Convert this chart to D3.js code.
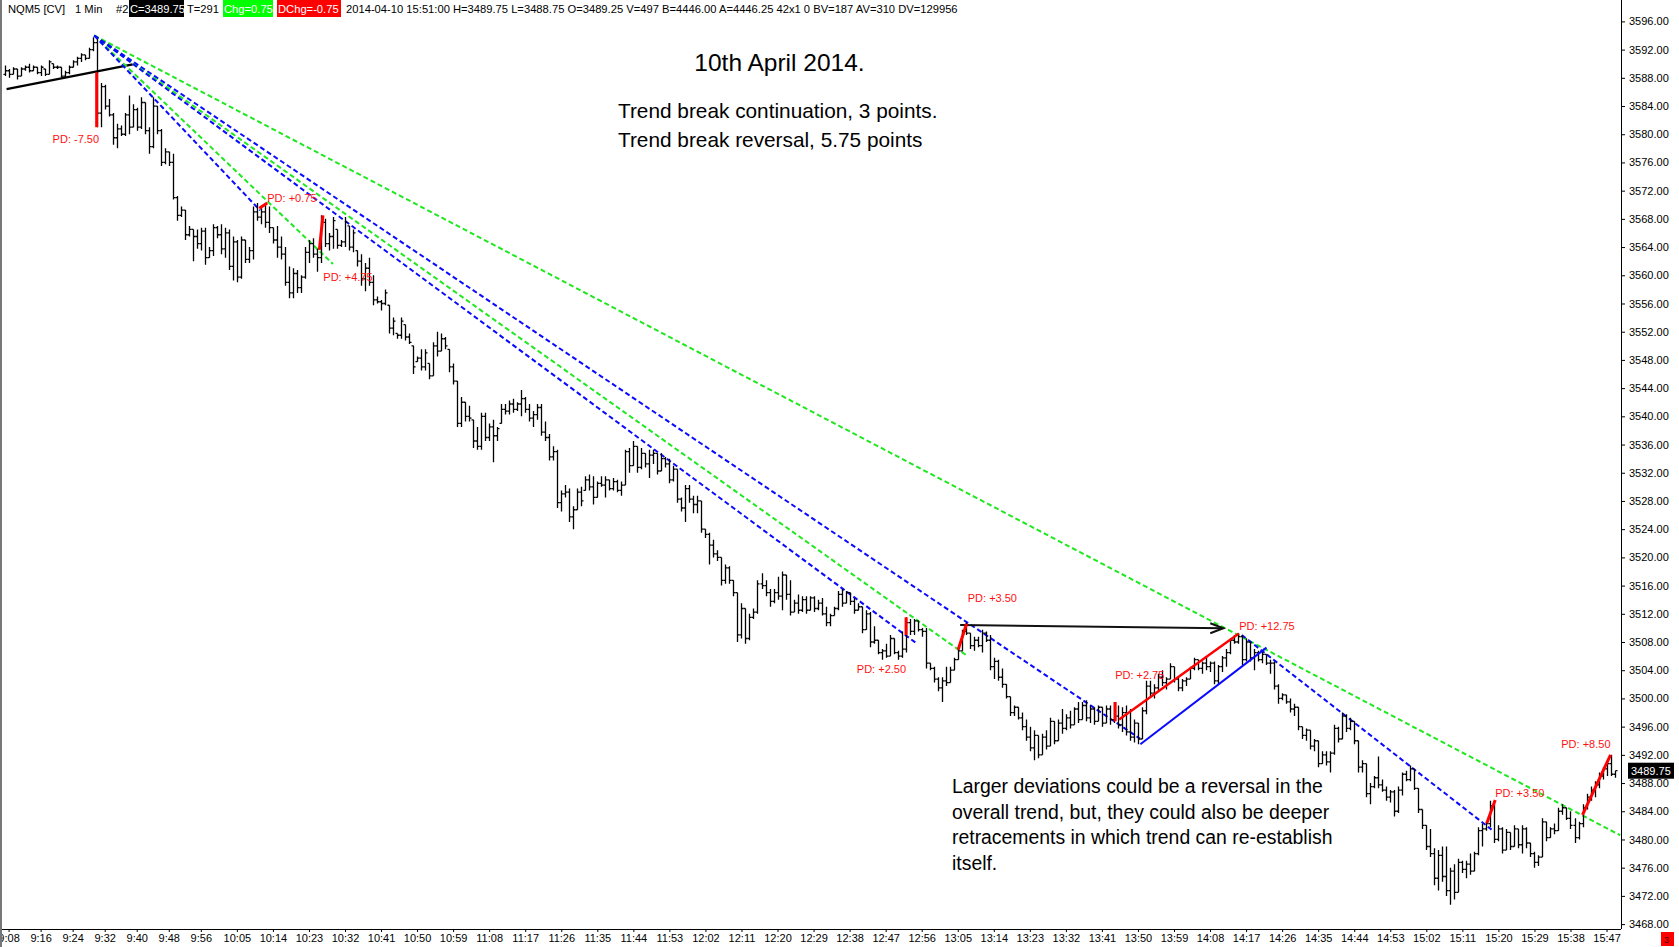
<!DOCTYPE html>
<html>
<head>
<meta charset="utf-8">
<script src="https://cdn.jsdelivr.net/npm/d3@7/dist/d3.min.js"></script>
<style>
  body { margin: 0; background: #fff; }
  svg { display: block; }
  text { font-family: "Liberation Sans", Arial, sans-serif; }
</style>
</head>
<body>
<div id="chart"></div>
<script>
// NQM5 1 min bars, 10 April 2014, first bar 9:07 (minute of day 547)
var firstMinute = 547;

var opens = [
3588.5,3589.0,3588.5,3589.25,3588.25,3589.25,3589.5,3589.0,3589.5,3588.75,
3589.25,3588.5,3590.0,3589.5,3589.5,3588.25,3588.75,3589.5,3590.25,3590.75,
3591.25,3590.75,3592.0,3593.0,3583.0,3586.75,3584.0,3582.75,3579.5,3580.75,
3580.0,3582.75,3581.0,3583.5,3581.0,3584.5,3580.5,3578.25,3584.0,3580.5,
3576.0,3577.5,3576.0,3571.0,3568.5,3569.25,3565.75,3566.5,3565.5,3564.5,
3566.25,3562.5,3563.5,3566.75,3565.75,3563.75,3566.0,3561.25,3564.75,3559.75,
3565.0,3562.25,3563.5,3569.0,3568.25,3569.0,3567.5,3566.75,3565.0,3564.0,
3563.0,3559.0,3557.5,3560.25,3558.25,3559.75,3563.25,3564.5,3563.0,3562.5,
3567.5,3564.5,3565.5,3566.5,3564.25,3564.75,3567.0,3564.0,3563.5,3562.0,
3559.5,3561.0,3559.0,3556.5,3556.25,3556.0,3555.75,3552.5,3551.75,3551.5,
3553.0,3551.25,3550.0,3547.75,3548.25,3547.0,3547.5,3545.75,3550.0,3549.25,
3551.0,3549.5,3547.0,3545.0,3539.0,3542.0,3540.0,3539.5,3536.5,3535.75,
3540.0,3537.0,3538.5,3537.25,3539.0,3541.0,3540.75,3541.75,3541.0,3541.75,
3542.5,3541.0,3539.75,3540.25,3541.25,3537.75,3537.0,3534.25,3535.0,3527.75,
3529.0,3529.25,3525.75,3526.75,3529.25,3529.5,3531.0,3530.0,3528.5,3530.5,
3530.25,3531.0,3529.75,3530.75,3529.5,3530.25,3535.0,3533.0,3535.75,3532.75,
3534.75,3533.25,3534.5,3534.75,3532.25,3534.0,3533.25,3531.0,3532.5,3528.25,
3527.0,3529.75,3528.25,3527.5,3528.0,3524.0,3523.25,3521.75,3520.5,3520.0,
3516.75,3518.5,3516.75,3515.0,3509.0,3512.75,3508.5,3511.5,3512.25,3516.25,
3516.0,3515.0,3513.75,3515.0,3514.5,3517.5,3514.75,3512.25,3513.5,3512.5,
3514.0,3512.5,3514.25,3512.75,3513.5,3512.0,3510.75,3511.75,3512.75,3514.75,
3513.5,3515.0,3513.75,3512.5,3513.0,3509.75,3512.0,3508.0,3508.25,3506.5,
3506.75,3506.0,3508.5,3506.5,3506.0,3507.0,3510.75,3509.5,3511.0,3509.75,
3509.5,3505.0,3504.25,3502.75,3501.5,3502.5,3502.25,3504.0,3505.5,3506.75,
3509.5,3509.25,3507.5,3508.25,3507.5,3509.25,3508.25,3504.5,3505.25,3503.0,
3502.0,3500.25,3498.0,3498.75,3497.25,3496.0,3494.5,3493.0,3494.75,3492.0,
3494.5,3493.25,3496.75,3494.0,3496.5,3495.75,3497.25,3496.25,3498.5,3497.0,
3499.0,3497.25,3498.5,3496.75,3498.75,3496.5,3498.5,3497.0,3497.5,3496.25,
3498.0,3495.25,3494.5,3496.5,3494.25,3498.25,3501.75,3500.75,3501.5,3503.0,
3502.25,3502.75,3504.5,3502.75,3501.5,3502.5,3502.75,3504.25,3505.5,3504.25,
3505.0,3504.5,3505.0,3502.5,3504.5,3505.75,3506.5,3508.25,3508.0,3508.75,
3505.5,3508.0,3505.75,3506.5,3505.5,3506.25,3505.0,3505.0,3501.75,3500.0,
3500.5,3499.5,3498.5,3498.75,3496.0,3494.75,3495.5,3493.25,3494.0,3490.75,
3492.0,3491.0,3492.25,3495.75,3494.25,3497.5,3495.75,3496.75,3494.0,3490.25,
3490.75,3486.5,3487.5,3488.75,3487.75,3487.0,3486.0,3486.75,3484.0,3487.0,
3489.25,3488.5,3490.0,3487.25,3484.25,3482.0,3479.0,3478.0,3474.5,3477.75,
3474.75,3472.75,3475.5,3472.5,3476.75,3475.75,3476.5,3475.5,3478.0,3481.25,
3481.5,3482.25,3484.75,3480.0,3481.5,3478.5,3481.0,3479.0,3481.5,3479.25,
3481.5,3479.5,3478.0,3476.75,3477.5,3482.5,3480.25,3481.5,3481.25,3484.0,
3484.5,3483.0,3482.0,3480.25,3482.25,3484.5,3486.0,3487.0,3487.75,3489.0,
3490.0,3490.75,3489.25
];

var highs = [
3589.75,3589.25,3589.5,3589.25,3589.5,3589.75,3590.0,3589.75,3589.5,3589.75,
3589.25,3590.5,3590.0,3589.75,3589.5,3589.0,3589.75,3590.5,3591.0,3591.5,
3591.25,3592.25,3593.75,3593.5,3587.25,3587.0,3585.0,3583.0,3581.5,3581.25,
3583.0,3585.5,3584.25,3583.75,3585.25,3584.5,3581.0,3585.25,3584.0,3580.75,
3578.0,3577.5,3577.25,3571.25,3569.75,3569.25,3567.0,3566.5,3566.5,3566.75,
3566.75,3564.0,3567.25,3567.0,3567.25,3566.75,3566.5,3565.5,3565.0,3565.5,
3565.0,3564.0,3569.75,3570.25,3569.5,3570.25,3569.75,3566.75,3567.0,3565.5,
3564.0,3561.25,3561.0,3560.75,3560.0,3564.0,3565.0,3565.25,3563.75,3568.5,
3568.0,3566.0,3568.25,3566.5,3565.0,3568.25,3567.0,3566.5,3563.5,3563.0,
3561.75,3562.5,3560.0,3557.0,3556.5,3558.0,3555.75,3554.0,3551.75,3554.0,
3553.0,3551.75,3550.0,3548.5,3549.5,3549.5,3547.5,3550.5,3552.0,3551.75,
3551.25,3549.5,3547.5,3545.0,3542.75,3542.0,3541.5,3539.5,3538.5,3540.5,
3540.5,3539.0,3539.5,3538.5,3541.75,3541.75,3542.25,3542.5,3542.0,3543.75,
3542.75,3541.75,3540.75,3541.75,3541.75,3539.25,3537.5,3535.75,3535.25,3529.5,
3530.25,3529.75,3527.25,3529.75,3530.0,3531.5,3531.75,3531.5,3530.75,3531.5,
3531.5,3531.0,3531.25,3531.0,3530.75,3535.25,3535.5,3536.5,3535.75,3535.5,
3534.75,3535.25,3535.25,3534.75,3534.75,3534.25,3534.0,3533.0,3532.5,3528.5,
3530.25,3530.25,3528.75,3528.75,3528.0,3524.0,3523.5,3522.5,3521.0,3520.0,
3519.0,3518.75,3516.75,3515.0,3513.5,3512.75,3512.0,3512.75,3516.75,3517.75,
3516.75,3515.5,3515.5,3517.25,3518.0,3517.5,3516.75,3514.0,3514.75,3514.5,
3514.5,3514.5,3514.5,3514.0,3514.25,3513.0,3512.0,3513.0,3515.25,3515.5,
3515.25,3515.0,3514.25,3513.5,3513.0,3512.5,3512.25,3510.25,3508.25,3507.0,
3507.75,3509.0,3508.5,3506.75,3509.5,3511.5,3511.25,3511.25,3511.0,3510.0,
3510.0,3505.0,3504.5,3503.0,3503.0,3504.5,3504.5,3505.75,3507.0,3509.75,
3510.75,3509.25,3508.75,3508.75,3509.75,3509.5,3509.0,3505.75,3505.5,3504.25,
3502.0,3500.25,3499.0,3498.75,3498.0,3497.0,3496.0,3495.5,3494.75,3495.0,
3495.5,3497.25,3496.75,3497.0,3498.5,3497.75,3498.25,3498.75,3499.5,3499.5,
3499.75,3499.0,3498.75,3499.0,3498.75,3499.0,3499.0,3499.5,3499.0,3498.75,
3499.0,3498.5,3497.0,3496.5,3498.75,3502.5,3502.5,3502.0,3503.5,3504.0,
3503.0,3505.0,3504.5,3503.0,3502.75,3503.0,3504.5,3505.75,3505.5,3505.25,
3506.0,3505.25,3505.25,3504.75,3506.0,3507.0,3508.5,3509.0,3509.25,3509.0,
3508.5,3508.0,3507.0,3506.75,3506.75,3506.25,3505.5,3505.25,3502.0,3500.75,
3500.5,3500.0,3499.25,3498.75,3496.0,3495.75,3495.5,3494.25,3494.0,3492.5,
3492.5,3492.5,3496.25,3496.0,3498.0,3497.75,3497.25,3496.75,3494.0,3491.25,
3490.75,3488.0,3489.0,3491.75,3488.5,3487.5,3487.0,3487.0,3487.5,3489.5,
3489.75,3490.5,3490.0,3487.25,3484.25,3482.0,3481.5,3478.75,3478.5,3479.0,
3479.0,3476.0,3476.5,3477.25,3477.0,3477.0,3478.0,3478.25,3481.75,3482.25,
3482.5,3485.5,3485.0,3482.0,3481.75,3481.5,3481.0,3482.0,3481.5,3482.0,
3481.75,3479.5,3478.25,3477.75,3483.0,3482.5,3481.75,3482.25,3484.5,3485.0,
3484.5,3484.0,3483.0,3482.5,3485.0,3486.5,3487.5,3488.25,3489.5,3490.25,
3491.0,3492.0,3489.75
];

var lows = [
3588.25,3588.0,3588.5,3587.75,3588.25,3589.0,3588.75,3589.0,3588.5,3588.25,
3588.25,3588.5,3589.25,3589.25,3588.0,3588.0,3588.5,3589.5,3589.75,3590.25,
3590.5,3590.75,3591.75,3581.0,3581.0,3583.5,3582.5,3578.5,3578.0,3579.75,
3579.75,3580.0,3581.0,3580.5,3580.75,3580.0,3577.25,3578.0,3580.0,3575.5,
3575.75,3575.5,3570.75,3567.75,3568.25,3565.0,3565.5,3562.0,3563.75,3563.5,
3561.5,3562.5,3562.75,3565.25,3563.0,3562.5,3560.75,3559.25,3559.0,3559.5,
3561.75,3561.75,3562.25,3567.75,3567.25,3566.75,3566.0,3564.5,3562.5,3562.25,
3558.5,3556.75,3556.75,3557.5,3557.5,3559.5,3561.75,3562.5,3560.5,3561.75,
3564.0,3563.5,3563.75,3563.75,3564.0,3564.0,3563.5,3563.25,3561.25,3558.5,
3557.75,3558.5,3555.75,3556.0,3555.0,3555.75,3551.75,3551.5,3551.0,3551.0,
3550.75,3550.25,3546.0,3547.75,3546.5,3546.5,3545.25,3545.75,3548.5,3549.25,
3549.5,3546.25,3544.5,3538.5,3538.5,3539.25,3539.25,3535.5,3535.25,3535.25,
3536.5,3536.5,3533.5,3536.5,3539.0,3540.25,3540.25,3540.5,3540.75,3540.0,
3540.5,3539.25,3538.5,3539.5,3537.25,3536.5,3533.75,3533.75,3527.0,3526.5,
3528.5,3525.0,3524.0,3526.75,3527.25,3529.5,3529.5,3527.5,3528.5,3530.0,
3528.5,3529.5,3529.5,3529.25,3528.75,3530.25,3532.0,3533.0,3532.0,3532.5,
3532.75,3531.25,3533.25,3531.75,3532.25,3532.75,3530.5,3530.75,3527.75,3526.5,
3525.0,3527.75,3526.25,3526.25,3523.5,3522.75,3519.0,3520.0,3519.5,3516.0,
3516.25,3516.25,3514.5,3508.0,3508.5,3507.75,3508.25,3511.25,3512.0,3515.5,
3514.5,3513.0,3513.5,3514.0,3512.5,3514.0,3511.75,3512.25,3512.0,3512.25,
3512.0,3512.5,3512.25,3512.5,3511.75,3510.25,3510.25,3511.75,3512.5,3513.0,
3513.5,3513.25,3512.0,3512.5,3509.25,3509.75,3507.25,3507.75,3506.25,3505.5,
3505.75,3506.0,3506.25,3505.5,3505.75,3506.5,3509.0,3509.0,3509.5,3508.75,
3504.25,3504.0,3502.25,3501.0,3499.5,3501.75,3502.25,3504.0,3505.5,3506.75,
3509.0,3507.0,3506.75,3507.25,3506.5,3508.0,3504.0,3502.75,3502.5,3501.5,
3500.0,3497.5,3497.5,3497.0,3495.5,3494.0,3492.5,3491.25,3491.5,3492.0,
3492.75,3493.25,3493.5,3494.0,3495.0,3495.5,3495.75,3496.25,3496.5,3497.0,
3496.75,3496.5,3496.25,3496.75,3496.0,3496.5,3496.25,3496.5,3495.75,3495.25,
3494.75,3494.0,3493.75,3493.5,3494.25,3497.75,3500.25,3500.0,3501.0,3501.75,
3501.25,3502.75,3502.25,3501.0,3501.0,3501.75,3502.75,3504.0,3504.0,3503.5,
3504.0,3503.75,3502.0,3502.0,3503.75,3504.5,3506.25,3507.75,3507.75,3504.75,
3505.25,3505.25,3504.0,3505.25,3505.0,3504.75,3503.5,3501.25,3499.25,3499.75,
3499.25,3498.0,3497.5,3495.5,3494.25,3494.0,3492.75,3492.5,3490.25,3490.75,
3490.5,3489.5,3492.0,3493.75,3494.25,3495.25,3495.5,3493.5,3489.5,3489.5,
3486.0,3485.0,3487.25,3487.25,3486.75,3485.5,3485.25,3483.25,3483.75,3486.25,
3488.25,3488.25,3487.0,3483.75,3481.5,3478.5,3477.5,3473.5,3472.75,3474.0,
3472.0,3470.75,3471.5,3472.5,3475.25,3474.5,3475.0,3475.5,3477.75,3479.0,
3481.25,3481.75,3479.5,3479.75,3478.0,3478.5,3478.5,3479.0,3478.75,3478.0,
3478.75,3477.5,3476.0,3476.25,3477.5,3479.75,3480.25,3480.75,3481.25,3483.5,
3482.75,3481.5,3479.5,3480.0,3481.75,3484.25,3485.5,3486.0,3487.25,3488.5,
3489.0,3489.0,3488.75
];

var closes = [
3589.0,3588.5,3589.25,3588.25,3589.25,3589.5,3589.0,3589.5,3588.75,3589.5,
3588.5,3590.25,3589.5,3589.5,3588.25,3588.75,3589.5,3590.25,3590.75,3591.25,
3590.75,3592.0,3593.0,3583.0,3586.75,3584.0,3582.75,3579.5,3580.75,3580.0,
3582.75,3581.0,3583.5,3581.0,3584.5,3580.5,3578.25,3584.0,3580.5,3576.0,
3577.5,3576.0,3571.0,3568.5,3569.25,3565.75,3566.5,3565.5,3564.5,3566.25,
3562.5,3563.5,3566.75,3565.75,3563.75,3566.0,3561.25,3564.75,3559.75,3565.0,
3562.25,3563.5,3569.0,3568.25,3569.0,3567.5,3566.75,3565.0,3564.0,3563.0,
3559.0,3557.5,3560.25,3558.25,3559.75,3563.25,3564.5,3563.0,3562.5,3567.5,
3564.5,3565.5,3567.75,3564.25,3564.75,3567.5,3564.0,3566.0,3562.0,3559.5,
3561.0,3559.0,3556.5,3556.25,3556.0,3557.5,3552.5,3553.5,3551.5,3553.5,
3551.25,3550.5,3547.0,3548.25,3547.0,3549.0,3545.75,3550.0,3549.25,3551.0,
3550.0,3547.0,3545.0,3539.0,3542.0,3540.0,3539.75,3536.5,3535.75,3540.0,
3537.0,3538.5,3537.25,3538.25,3541.0,3540.75,3541.75,3541.0,3541.75,3542.5,
3541.0,3539.75,3540.25,3541.25,3537.75,3537.0,3534.25,3535.0,3527.75,3529.0,
3529.25,3525.75,3526.75,3529.25,3528.0,3531.0,3530.0,3528.5,3530.5,3530.25,
3531.0,3529.75,3530.75,3529.5,3530.25,3535.0,3533.0,3535.75,3532.75,3534.75,
3533.25,3534.5,3534.75,3532.25,3534.0,3533.25,3531.0,3532.5,3528.25,3527.0,
3529.75,3528.25,3527.5,3528.0,3524.0,3523.25,3521.75,3520.5,3520.0,3516.75,
3518.5,3516.75,3515.0,3509.0,3512.75,3508.5,3511.5,3512.25,3516.25,3516.0,
3515.0,3513.75,3515.0,3514.5,3517.5,3514.75,3512.25,3513.5,3512.5,3514.0,
3512.5,3514.25,3512.75,3513.5,3512.0,3510.75,3511.75,3512.75,3514.75,3513.5,
3515.0,3513.75,3512.5,3513.0,3509.75,3512.0,3508.0,3508.25,3506.5,3506.75,
3506.0,3508.5,3506.5,3506.0,3507.0,3510.75,3509.5,3511.0,3509.75,3509.5,
3505.0,3504.25,3502.75,3501.5,3502.5,3502.25,3504.0,3505.5,3506.75,3509.5,
3509.25,3507.5,3508.25,3507.5,3509.25,3508.25,3504.5,3505.25,3503.0,3502.0,
3500.25,3498.0,3498.75,3497.25,3496.0,3494.5,3493.0,3494.75,3492.0,3494.5,
3493.25,3496.75,3494.0,3496.5,3495.75,3497.25,3496.25,3498.5,3497.0,3499.0,
3497.25,3498.5,3496.75,3498.75,3496.5,3498.5,3497.0,3497.5,3496.25,3498.0,
3495.25,3494.5,3496.5,3494.25,3498.25,3501.75,3500.75,3501.5,3503.0,3502.25,
3502.75,3504.5,3502.75,3501.5,3502.5,3502.75,3504.25,3505.5,3504.25,3505.0,
3504.5,3505.0,3502.5,3504.5,3505.75,3506.5,3508.25,3508.0,3508.75,3505.5,
3508.0,3505.75,3506.5,3505.5,3506.25,3505.0,3505.0,3501.75,3500.0,3500.5,
3499.5,3498.5,3498.75,3496.0,3494.75,3495.5,3493.25,3494.0,3490.75,3492.0,
3491.0,3492.25,3495.75,3494.25,3497.5,3495.75,3496.75,3494.0,3490.25,3490.75,
3486.5,3487.5,3488.75,3487.75,3487.0,3486.0,3486.75,3484.0,3487.0,3489.25,
3488.5,3490.0,3487.25,3484.25,3482.0,3479.0,3478.0,3474.5,3477.75,3474.75,
3472.75,3475.5,3472.5,3476.75,3475.75,3476.5,3475.5,3478.0,3481.25,3481.5,
3482.25,3484.75,3480.0,3481.5,3478.5,3481.0,3479.0,3481.5,3479.25,3481.5,
3479.5,3478.0,3476.75,3477.5,3482.5,3480.25,3481.5,3481.25,3484.0,3484.5,
3483.0,3482.0,3480.25,3482.25,3484.5,3486.0,3487.0,3487.75,3489.0,3490.0,
3490.75,3489.25,3489.75
];

var timeTicks = ["9:08","9:16","9:24","9:32","9:40","9:48","9:56","10:05","10:14","10:23",
  "10:32","10:41","10:50","10:59","11:08","11:17","11:26","11:35","11:44","11:53","12:02",
  "12:11","12:20","12:29","12:38","12:47","12:56","13:05","13:14","13:23","13:32","13:41",
  "13:50","13:59","14:08","14:17","14:26","14:35","14:44","14:53","15:02","15:11","15:20",
  "15:29","15:38","15:47"];
var priceTicks = d3.range(3468, 3597, 4);
var lastPrice = 3489.75;

// drawn lines, points are [minute of day, price]
var upTrend = [[547.5, 3586.4], [579.0, 3589.9]];
var blueDashed = [
  [[569.4, 3594.0], [610.8, 3569.2]],
  [[569.4, 3594.0], [774.5, 3507.9]],
  [[569.4, 3594.0], [830.5, 3494.3]],
  [[855.9, 3509.0], [918.3, 3481.4]]
];
var greenDashed = [
  [[569.4, 3594.0], [629.0, 3561.6]],
  [[569.4, 3594.0], [787.2, 3506.1]],
  [[569.4, 3594.0], [950.4, 3480.6]]
];
var pdLines = [
  [[570.0, 3588.75], [570.0, 3581.0]],
  [[610.6, 3569.5], [612.6, 3570.25]],
  [[625.6, 3563.6], [626.5, 3568.5]],
  [[772.1, 3509.0], [772.1, 3511.5]],
  [[785.1, 3506.9], [787.2, 3510.6]],
  [[824.3, 3496.75], [824.3, 3499.5]],
  [[917.1, 3482.3], [919.2, 3485.6]],
  [[941.0, 3483.5], [948.0, 3492.0]]
];
var redChannel = [[825.3, 3497.0], [855.2, 3509.2]];
var blueChannel = [[830.6, 3493.5], [862.1, 3507.2]];
var levelArrow = [[785.6, 3510.4], [851.3, 3509.95]];

var pdLabels = ["PD: -7.50", "PD: +0.75", "PD: +4.75", "PD: +2.50", "PD: +3.50",
  "PD: +2.75", "PD: +12.75", "PD: +3.50", "PD: +8.50"];
var pdLabelAt = [[559.0, 3578.75], [612.6, 3570.4], [626.6, 3559.2], [759.8, 3503.6],
  [787.5, 3513.7], [824.3, 3502.75], [855.3, 3509.7], [919.2, 3486.0], [935.7, 3493.0]];

var notesTop = ["Trend break continuation, 3 points.", "Trend break reversal, 5.75 points"];
var notesBottom = ["Larger deviations could be a reversal in the",
  "overall trend, but, they could also be deeper",
  "retracements in which trend can re-establish",
  "itself."];

var W = 1679, H = 947;
var plotRight = 1621, plotBottom = 929;

var svg = d3.select('#chart').append('svg').attr('width', W).attr('height', H);
svg.append('rect').attr('width', W).attr('height', H).attr('fill', '#fff');

var x = d3.scaleLinear().domain([545.86, 950.36]).range([0, 1620]);
var y = d3.scaleLinear().domain([3468, 3596]).range([924.1, 21.4]);

svg.append('clipPath').attr('id', 'plotclip')
  .append('rect').attr('x', 0).attr('y', 0).attr('width', plotRight).attr('height', plotBottom);

var plot = svg.append('g').attr('clip-path', 'url(#plotclip)');

var line = d3.line().x(function(d) { return x(d[0]); }).y(function(d) { return y(d[1]); });

function parseTime(s) {
  var p = s.split(':');
  return +p[0] * 60 + +p[1];
}

// trend lines behind the bars
plot.append('path').attr('d', line(upTrend))
  .attr('stroke', '#000').attr('stroke-width', 2.2).attr('fill', 'none');

plot.selectAll('path.gdash').data(greenDashed).enter().append('path')
  .attr('class', 'gdash').attr('d', line)
  .attr('stroke', '#1fe81f').attr('stroke-width', 2).attr('stroke-dasharray', '5,3').attr('fill', 'none');

plot.selectAll('path.bdash').data(blueDashed).enter().append('path')
  .attr('class', 'bdash').attr('d', line)
  .attr('stroke', '#0a0aff').attr('stroke-width', 2).attr('stroke-dasharray', '5,3').attr('fill', 'none');

// OHLC bars
var bars = opens.map(function(o, i) {
  return {t: firstMinute + i, o: o, h: highs[i], l: lows[i], c: closes[i]};
});

plot.selectAll('path.bar').data(bars).enter().append('path')
  .attr('class', 'bar')
  .attr('d', function(d) {
    var px = Math.round(x(d.t)) + 0.5;
    return 'M' + px + ',' + y(d.h) + 'V' + y(d.l) +
      'M' + (px - 2) + ',' + y(d.o) + 'H' + px +
      'M' + px + ',' + y(d.c) + 'H' + (px + 2);
  })
  .attr('stroke', '#000').attr('stroke-width', 1.3).attr('fill', 'none');

// channel and level lines
plot.append('path').attr('d', line(redChannel))
  .attr('stroke', '#ff0000').attr('stroke-width', 2.4).attr('fill', 'none');
plot.append('path').attr('d', line(blueChannel))
  .attr('stroke', '#0a0aff').attr('stroke-width', 2).attr('fill', 'none');

plot.append('path').attr('d', line(levelArrow))
  .attr('stroke', '#111').attr('stroke-width', 2).attr('fill', 'none');
var tip = levelArrow[1];
plot.append('path')
  .attr('d', 'M' + (x(tip[0]) - 13) + ',' + (y(tip[1]) - 5) + 'L' + x(tip[0]) + ',' + y(tip[1]) +
    'L' + (x(tip[0]) - 13) + ',' + (y(tip[1]) + 5))
  .attr('stroke', '#111').attr('stroke-width', 2).attr('fill', 'none');

plot.selectAll('path.pd').data(pdLines).enter().append('path')
  .attr('class', 'pd').attr('d', line)
  .attr('stroke', '#ff0000').attr('stroke-width', 3).attr('fill', 'none');

plot.selectAll('text.pdl').data(pdLabels).enter().append('text')
  .attr('class', 'pdl')
  .attr('x', function(d, i) { return x(pdLabelAt[i][0]); })
  .attr('y', function(d, i) { return y(pdLabelAt[i][1]); })
  .attr('fill', '#ff1010').attr('font-size', 11)
  .text(function(d) { return d; });

// axes
var yAxis = d3.axisRight(y).tickValues(priceTicks)
  .tickFormat(d3.format('.2f')).tickSize(4).tickPadding(4);
svg.append('g').attr('transform', 'translate(' + plotRight + ',0)').call(yAxis)
  .call(function(g) {
    g.select('.domain').attr('d', 'M0.5,0V' + plotBottom).attr('stroke', '#000');
    g.selectAll('text').attr('font-size', 11).attr('fill', '#000').attr('font-family', '"Liberation Sans", Arial, sans-serif');
  });

var xAxis = d3.axisBottom(x).tickValues(timeTicks.map(parseTime))
  .tickFormat(function(d, i) { return timeTicks[i]; }).tickSize(3).tickPadding(2);
svg.append('g').attr('transform', 'translate(0,' + plotBottom + ')').call(xAxis)
  .call(function(g) {
    g.select('.domain').attr('d', 'M0,0.5H' + plotRight).attr('stroke', '#000');
    g.selectAll('text').attr('font-size', 11).attr('fill', '#000').attr('font-family', '"Liberation Sans", Arial, sans-serif');
  });

// last price marker
svg.append('rect').attr('x', 1628).attr('y', y(lastPrice) - 8).attr('width', 46).attr('height', 16).attr('fill', '#000');
svg.append('text').attr('x', 1631).attr('y', y(lastPrice) + 4).attr('fill', '#fff').attr('font-size', 11)
  .text(d3.format('.2f')(lastPrice));

// left frame edge and corner marker
svg.append('rect').attr('x', 0).attr('y', 0).attr('width', 2).attr('height', H).attr('fill', '#777');
svg.append('rect').attr('x', 1661).attr('y', 932).attr('width', 13).attr('height', 14).attr('fill', '#f00');
svg.append('text').attr('x', 1664).attr('y', 943).attr('font-size', 9).attr('fill', '#400').text('3');

// header strip
var hdr = svg.append('g').attr('font-size', 11.2);
hdr.append('text').attr('x', 8).attr('y', 13).text('NQM5 [CV]');
hdr.append('text').attr('x', 75).attr('y', 13).text('1 Min');
hdr.append('text').attr('x', 116).attr('y', 13).text('#2');
hdr.append('rect').attr('x', 129).attr('y', 0).attr('width', 55).attr('height', 17).attr('fill', '#000');
hdr.append('text').attr('x', 130).attr('y', 13).attr('fill', '#fff').text('C=3489.75');
hdr.append('text').attr('x', 187).attr('y', 13).text('T=291');
hdr.append('rect').attr('x', 223).attr('y', 0).attr('width', 50).attr('height', 17).attr('fill', '#00ff00');
hdr.append('text').attr('x', 224).attr('y', 13).attr('fill', '#fff').text('Chg=0.75');
hdr.append('rect').attr('x', 277).attr('y', 0).attr('width', 64).attr('height', 17).attr('fill', '#ff0000');
hdr.append('text').attr('x', 278).attr('y', 13).attr('fill', '#fff').text('DChg=-0.75');
hdr.append('text').attr('x', 346).attr('y', 13)
  .text('2014-04-10 15:51:00 H=3489.75 L=3488.75 O=3489.25 V=497 B=4446.00 A=4446.25 42x1 0 BV=187 AV=310 DV=129956');

// notes
svg.append('text').attr('x', 779.5).attr('y', 71).attr('text-anchor', 'middle')
  .attr('font-family', 'Lato, sans-serif').attr('font-size', 24.5).text('10th April 2014.');
svg.selectAll('text.nt').data(notesTop).enter().append('text').attr('class', 'nt')
  .attr('x', 618).attr('y', function(d, i) { return 118 + i * 29; })
  .attr('font-family', 'Lato, sans-serif').attr('font-size', 20.8).text(function(d) { return d; });
svg.selectAll('text.nb').data(notesBottom).enter().append('text').attr('class', 'nb')
  .attr('x', 952).attr('y', function(d, i) { return 793 + i * 25.7; })
  .attr('font-family', 'Lato, sans-serif').attr('font-size', 19.4).text(function(d) { return d; });
</script>
</body>
</html>
